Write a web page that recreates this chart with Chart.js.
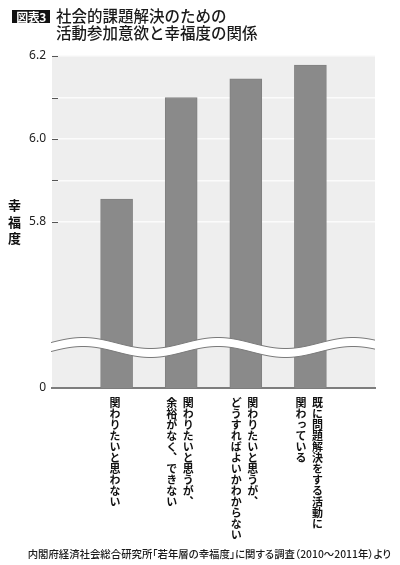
<!DOCTYPE html>
<html lang="ja">
<head>
<meta charset="utf-8">
<script src="https://cdn.jsdelivr.net/npm/chart.js@4"></script>
<style>
  html, body { margin: 0; padding: 0; background: #fff; }
  body { width: 400px; height: 565px; position: relative; overflow: hidden;
         font-family: "Noto Sans CJK JP", "Noto Sans", sans-serif; color: #1a1a1a; }
  #wrap { position: absolute; left: 0; top: 0; width: 400px; height: 565px; }
  .fig-no { position: absolute; left: 12px; top: 10px; width: 38px; height: 13px;
            background: #111; color: #fff; font-size: 12px; font-weight: 700;
            line-height: 13px; text-align: center; letter-spacing: -0.5px; }
  .title { position: absolute; left: 56px; top: 7px; font-size: 15.5px; font-weight: 500;
           line-height: 17px; white-space: pre; }
  .xlab { position: absolute; writing-mode: vertical-rl; white-space: pre;
          font-size: 11px; font-weight: 700; line-height: 16.5px; color: #111; }
  .ytitle { position: absolute; writing-mode: vertical-rl; font-size: 13px; font-weight: 700;
            line-height: 16px; letter-spacing: 3.3px; color: #111; }
  .source { position: absolute; right: 9px; top: 546px; font-size: 10.4px; font-weight: 500;
            font-feature-settings: "palt"; white-space: nowrap; color: #1a1a1a; }
</style>
</head>
<body>
<div id="wrap"><canvas id="chart"></canvas></div>
<div class="fig-no">図表3</div>
<div class="title">社会的課題解決のための
活動参加意欲と幸福度の関係</div>
<div class="ytitle" id="ytitle">幸福度</div>
<div id="xlabels"></div>
<div class="source">内閣府経済社会総合研究所「若年層の幸福度」に関する調査（2010～2011年）より</div>

<script>
// categories (line breaks = columns of vertical text)
const categories = [
  '関わりたいと思わない',
  '関わりたいと思うが、\n余裕がなく、できない',
  '関わりたいと思うが、\nどうすればよいかわからない',
  '既に問題解決をする活動に\n関わっている',
];

// 幸福度
const happiness = [5.855, 6.10, 6.145, 6.178];

// y axis: broken axis, bottom of scale stands for 0
const yTickValues = [5.4, 5.8, 5.9, 6.0, 6.1, 6.2];
const yTickLabels = ['0', '5.8', '', '6.0', '', '6.2'];
const yMin = 5.4;
const yMax = 6.2;
const breakAt = 5.5;

const round1 = v => Math.round(v * 10) / 10;

// x slots: empty slot at each end, bars sit on the inner ones
const slotLabels = ['', ...categories, ''];
const slotData = [null, ...happiness, null];

const plotBg = {
  id: 'plotBg',
  beforeDraw(chart) {
    const { ctx, chartArea: a } = chart;
    ctx.save();
    ctx.fillStyle = '#eeeeee';
    ctx.fillRect(a.left, a.top, a.right - a.left, a.bottom - a.top);
    ctx.restore();
  },
};

// wavy break band across the plot
const axisBreak = {
  id: 'axisBreak',
  afterDatasetsDraw(chart) {
    const { ctx, chartArea: a, scales: { y } } = chart;
    const mid = y.getPixelForValue(breakAt) - 3.5;
    const amp = 5.5, period = 135, crest = 83, gap = 9;
    const wave = x => mid - amp * Math.cos(2 * Math.PI * (x - crest) / period);
    const x0 = a.left - 1, x1 = a.right;
    ctx.save();
    ctx.beginPath();
    for (let x = x0; x <= x1; x++) ctx.lineTo(x, wave(x));
    for (let x = x1; x >= x0; x--) ctx.lineTo(x, wave(x) + gap);
    ctx.closePath();
    ctx.fillStyle = '#ffffff';
    ctx.fill();
    ctx.strokeStyle = '#7a7a7a';
    ctx.lineWidth = 1;
    for (const off of [0, gap]) {
      ctx.beginPath();
      for (let x = x0; x <= x1; x++) ctx.lineTo(x, wave(x) + off);
      ctx.stroke();
    }
    ctx.restore();
  },
};

// short dark tick dashes on the inside of the left edge
const tickDashes = {
  id: 'tickDashes',
  afterDraw(chart) {
    const { ctx, chartArea: a, scales: { y } } = chart;
    ctx.save();
    ctx.strokeStyle = '#555';
    ctx.lineWidth = 1;
    for (const t of y.ticks) {
      if (round1(t.value) <= yMin) continue;
      const py = Math.round(y.getPixelForValue(t.value)) + 0.5;
      ctx.beginPath();
      ctx.moveTo(a.left, py);
      ctx.lineTo(a.left + 6, py);
      ctx.stroke();
    }
    ctx.restore();
  },
};

// vertical category labels + y title placed from the scales
const htmlLabels = {
  id: 'htmlLabels',
  afterRender(chart) {
    const { chartArea: a, scales: { x, y } } = chart;
    const box = document.getElementById('xlabels');
    if (!box.childElementCount) {
      categories.forEach(c => {
        const d = document.createElement('div');
        d.className = 'xlab';
        d.textContent = c;
        box.appendChild(d);
      });
    }
    [...box.children].forEach((d, i) => {
      const px = x.getPixelForValue(i + 1);
      d.style.left = (px - d.offsetWidth / 2 - 1.5) + 'px';
      d.style.top = (a.bottom + 9) + 'px';
    });
    const yt = document.getElementById('ytitle');
    yt.style.left = (14 - yt.offsetWidth / 2) + 'px';
    yt.style.top = (y.getPixelForValue(5.8) - 22.8) + 'px';
  },
};

new Chart(document.getElementById('chart'), {
  type: 'bar',
  data: {
    labels: slotLabels,
    datasets: [{
      data: slotData,
      backgroundColor: '#8a8a8a',
      borderColor: '#808080',
      borderWidth: 1,
      barThickness: 32,
    }],
  },
  options: {
    responsive: true,
    maintainAspectRatio: false,
    animation: false,
    events: [],
    layout: { padding: { top: 56, right: 25, left: 0, bottom: 0 } },
    plugins: { legend: { display: false }, tooltip: { enabled: false } },
    scales: {
      x: {
        offset: false,
        grid: { display: false },
        ticks: { display: false },
        border: { display: true, color: '#7d7d7d', width: 2 },
        afterFit: s => { s.height = 177; },
      },
      y: {
        min: yMin,
        max: yMax,
        afterBuildTicks: s => { s.ticks = yTickValues.map(v => ({ value: v })); },
        afterFit: s => { s.width = 52; },
        border: { display: false },
        grid: {
          drawTicks: false,
          lineWidth: 1.5,
          color: c => round1(c.tick.value) <= yMin ? 'rgba(0,0,0,0)' : '#fbfbfb',
        },
        ticks: {
          padding: 6,
          color: '#222',
          font: { family: '"Noto Sans", "Noto Sans CJK JP", sans-serif', size: 12 },
          callback: v => yTickLabels[yTickValues.findIndex(t => round1(t) === round1(v))] ?? '',
        },
      },
    },
  },
  plugins: [plotBg, axisBreak, tickDashes, htmlLabels],
});
</script>
</body>
</html>
